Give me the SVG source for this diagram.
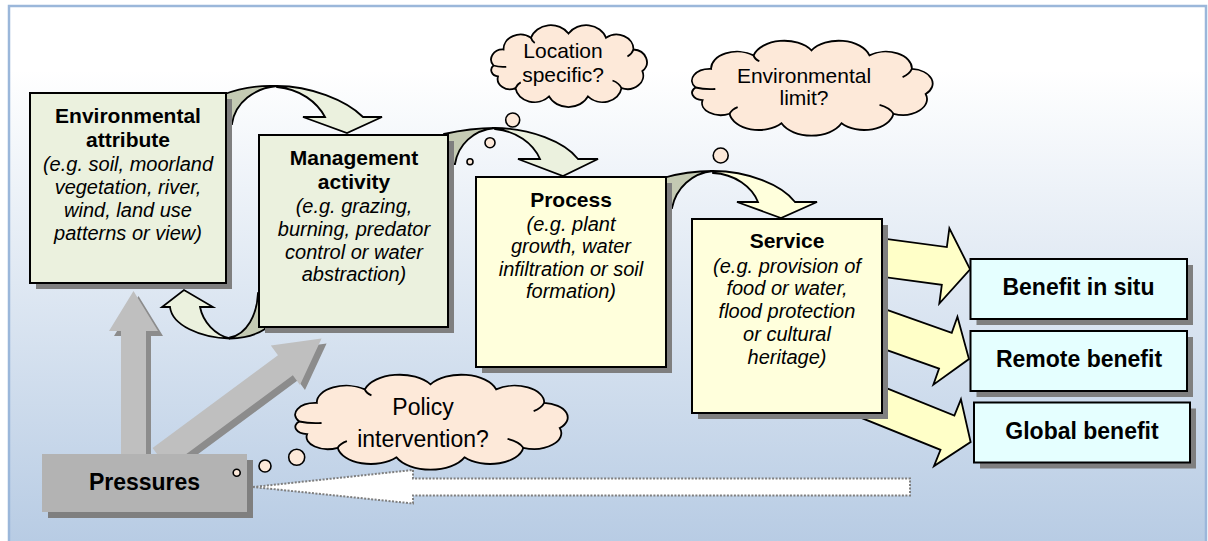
<svg xmlns="http://www.w3.org/2000/svg" width="1208" height="541" viewBox="0 0 1208 541">
<defs>
<linearGradient id="bg" gradientUnits="userSpaceOnUse" x1="0" y1="70" x2="0" y2="541">
<stop offset="0" stop-color="#ffffff"/>
<stop offset="1" stop-color="#b8cce4"/>
</linearGradient>
<style>
.box{stroke:#000;stroke-width:2}
.shadow{fill:#7f7f7f}
.green{fill:#ebf1de}
.yellow{fill:#ffffdc}
.cyan{fill:#e5ffff}
.title{font-family:"Liberation Sans",Arial,sans-serif;font-weight:bold;font-size:21px;text-anchor:middle;fill:#000}
.body{font-family:"Liberation Sans",Arial,sans-serif;font-style:italic;font-size:20px;text-anchor:middle;fill:#000}
.big{font-family:"Liberation Sans",Arial,sans-serif;font-weight:bold;font-size:23px;text-anchor:middle;fill:#000}
.ctxt{font-family:"Liberation Sans",Arial,sans-serif;font-size:21px;text-anchor:middle;fill:#000}
.cloud{fill:#fde9d9;stroke:#000;stroke-width:1.8;vector-effect:non-scaling-stroke}
.cline{fill:none;stroke:#000;stroke-width:1.8;vector-effect:non-scaling-stroke}
.bubble{fill:#fde9d9;stroke:#000;stroke-width:1.6}
.front-g{fill:#ebf1de;stroke:#000;stroke-width:1.8}
.front-y{fill:#ffffdc;stroke:#000;stroke-width:1.8}
.back{fill:#c4cab3;stroke:#000;stroke-width:1.8}
.yarrow{fill:#ffffc8;stroke:#000;stroke-width:1.8}
.garrow{fill:#bfbfbf}
.gshadow{fill:#8c8c8c}
.dashed{fill:#ffffff;stroke:#7f7f7f;stroke-width:2;stroke-dasharray:2 1.5}
</style>
</defs>

<rect x="9" y="6" width="1197" height="545" fill="url(#bg)" stroke="#9bb7da" stroke-width="2.5"/>

<g id="connectors">
  <!-- gray pressure arrows -->
  <polygon class="gshadow" points="126,465 126,336 114,336 138.5,296 163,336 151,336 151,465"/>
  <polygon class="gshadow" transform="translate(165,463) rotate(-36.5)" points="0,-12.5 156,-12.5 156,-24.5 201,0 156,24.5 156,12.5 0,12.5"/>
  <polygon class="garrow" points="121,460 121,331 109,331 133.5,291 158,331 146,331 146,460"/>
  <polygon class="garrow" transform="translate(160,458) rotate(-36.5)" points="0,-12.5 156,-12.5 156,-24.5 201,0 156,24.5 156,12.5 0,12.5"/>

  <!-- curved arrow: attribute to management -->
  <path class="back" d="M222,95 C240,88 258,85 277,86 C255,88 235,102 232,124 L222,124 Z"/>
  <path class="front-g" d="M277,86 C310,86 346,100 363,117 L382,117 L347,133 L303,117 L325,117 C317,102 300,89 277,87 Z"/>

  <!-- curved arrow: management to process -->
  <path class="back" d="M444,134 C462,130 478,128 495,128 C473,130 458,145 455,164 L444,164 Z"/>
  <path class="front-g" d="M495,128 C530,128 565,142 578,159 L598,159 L563,176 L518,159 L540,159 C533,143 516,131 495,129 Z"/>

  <!-- curved arrow: process to service -->
  <path class="back" d="M663,178 C680,173 697,171 713,171 C692,173 676,188 672,208 L663,208 Z"/>
  <path class="front-y" d="M713,171 C748,171 782,185 795,202 L817,202 L781,218 L737,202 L758,202 C752,187 735,174 713,173 Z"/>

  <!-- curved arrow: management back to attribute -->
  <path class="back" d="M230,338.5 C245,338 256,335 265,329 L265,292 L258,293 C257,315 247,334 230,337.5 Z"/>
  <path class="front-g" d="M170,307 C172,325 200,338 230,338.5 C215,335 203,322 200,307 L213,307 L184,290 L162,307 Z"/>

  <!-- service to benefits -->
  <polygon class="yarrow" transform="translate(870,256) rotate(7.6)" points="0,-19 75,-19 75,-38 101,0 75,38 75,19 0,19"/>
  <polygon class="yarrow" transform="translate(870,324) rotate(19.5)" points="0,-19 80,-19 80,-36 105,0 80,36 80,19 0,19"/>
  <polygon class="yarrow" transform="translate(864,399) rotate(22)" points="0,-18.5 90,-18.5 90,-36 115,0 90,36 90,18.5 0,18.5"/>

  <!-- dotted feedback arrow -->
  <polygon class="dashed" points="253,487 413,470 413,478.5 910,478.5 910,495.5 413,495.5 413,503.5"/>
</g>

<g id="node-environmental-attribute">
  <rect class="shadow" x="36" y="99" width="196" height="190"/>
  <rect class="box green" x="30" y="93" width="196" height="190"/>
  <text class="title" x="128" y="123">Environmental</text>
  <text class="title" x="128" y="147">attribute</text>
  <text class="body" x="128" y="171">(e.g. soil, moorland</text>
  <text class="body" x="128" y="193.5">vegetation, river,</text>
  <text class="body" x="128" y="216.5">wind, land use</text>
  <text class="body" x="128" y="239.5">patterns or view)</text>
</g>

<g id="node-management-activity">
  <rect class="shadow" x="265" y="141" width="189" height="192"/>
  <rect class="box green" x="259" y="135" width="189" height="192"/>
  <text class="title" x="354" y="164.5">Management</text>
  <text class="title" x="354" y="188.5">activity</text>
  <text class="body" x="354" y="213">(e.g. grazing,</text>
  <text class="body" x="354" y="236">burning, predator</text>
  <text class="body" x="354" y="258.7">control or water</text>
  <text class="body" x="354" y="281.3">abstraction)</text>
</g>

<g id="node-process">
  <rect class="shadow" x="482" y="183" width="190" height="190"/>
  <rect class="box yellow" x="476" y="177" width="190" height="190"/>
  <text class="title" x="571" y="206.7">Process</text>
  <text class="body" x="571" y="231">(e.g. plant</text>
  <text class="body" x="571" y="253.3">growth, water</text>
  <text class="body" x="571" y="276">infiltration or soil</text>
  <text class="body" x="571" y="298.3">formation)</text>
</g>

<g id="node-service">
  <rect class="shadow" x="698" y="225" width="190" height="194"/>
  <rect class="box yellow" x="692" y="219" width="190" height="194"/>
  <text class="title" x="787" y="248.3">Service</text>
  <text class="body" x="787" y="272.7">(e.g. provision of</text>
  <text class="body" x="787" y="295">food or water,</text>
  <text class="body" x="787" y="318.3">flood protection</text>
  <text class="body" x="787" y="341">or cultural</text>
  <text class="body" x="787" y="364">heritage)</text>
</g>

<g id="node-benefit-in-situ">
  <rect class="shadow" x="976.5" y="265" width="216.5" height="60"/>
  <rect class="box cyan" x="970.5" y="259" width="216.5" height="60"/>
  <text class="big" x="1078.5" y="295">Benefit in situ</text>
</g>

<g id="node-remote-benefit">
  <rect class="shadow" x="976.5" y="337" width="216.5" height="60"/>
  <rect class="box cyan" x="970.5" y="331" width="216.5" height="60"/>
  <text class="big" x="1079" y="366.7">Remote benefit</text>
</g>

<g id="node-global-benefit">
  <rect class="shadow" x="980" y="408.5" width="216" height="60"/>
  <rect class="box cyan" x="974" y="402.5" width="216" height="60"/>
  <text class="big" x="1082" y="439.3">Global benefit</text>
</g>

<g id="node-pressures">
  <rect class="shadow" x="48" y="460" width="205" height="58"/>
  <rect x="42" y="454" width="205" height="58" fill="#b3b3b3"/>
  <text class="big" x="144.5" y="490">Pressures</text>
</g>

<g id="node-location-specific">
  <circle class="bubble" cx="470" cy="161.7" r="3"/>
  <circle class="bubble" cx="490" cy="142.7" r="5"/>
  <circle class="bubble" cx="512.7" cy="120" r="7"/>
  <g transform="translate(568.5,65.5) scale(0.75,0.64)">
    <path class="cloud" d="M-100,0 A15.6 15.6 0 0 1 -86.6,-25 A22.5 22.5 0 0 1 -50,-43.3 A27.7 27.7 0 0 1 0,-50 A27.7 27.7 0 0 1 50,-43.3 A22.5 22.5 0 0 1 86.6,-25 A19.6 19.6 0 0 1 98.5,8.7 A21.2 21.2 0 0 1 70.7,35.4 A25.6 25.6 0 0 1 25.9,48.3 A28.5 28.5 0 0 1 -25.9,48.3 A25.6 25.6 0 0 1 -70.7,35.4 A16.3 16.3 0 0 1 -94,17.1 A10 10 0 0 1 -100,0 Z"/>
    <path class="cline" d="M-100,0 q8,3 17,2 M-70.7,35.4 q2,-6 7,-9 M86.6,-25 q-2,7 -8,11 M70.7,35.4 q-3,-8 -12,-12 M-50,-43.3 q1,5 5,8"/>
  </g>
  <text class="ctxt" x="563" y="58.3">Location</text>
  <text class="ctxt" x="563" y="81.7">specific?</text>
</g>

<g id="node-environmental-limit">
  <circle class="bubble" cx="720.7" cy="155.5" r="7.5"/>
  <g transform="translate(811.5,87.5) scale(1.159,0.742)">
    <path class="cloud" d="M-100,0 A15.6 15.6 0 0 1 -86.6,-25 A22.5 22.5 0 0 1 -50,-43.3 A27.7 27.7 0 0 1 0,-50 A27.7 27.7 0 0 1 50,-43.3 A22.5 22.5 0 0 1 86.6,-25 A19.6 19.6 0 0 1 98.5,8.7 A21.2 21.2 0 0 1 70.7,35.4 A25.6 25.6 0 0 1 25.9,48.3 A28.5 28.5 0 0 1 -25.9,48.3 A25.6 25.6 0 0 1 -70.7,35.4 A16.3 16.3 0 0 1 -94,17.1 A10 10 0 0 1 -100,0 Z"/>
    <path class="cline" d="M-100,0 q8,3 17,2 M-70.7,35.4 q2,-6 7,-9 M86.6,-25 q-2,7 -8,11 M70.7,35.4 q-3,-8 -12,-12 M-50,-43.3 q1,5 5,8"/>
  </g>
  <text class="ctxt" x="804" y="82.7">Environmental</text>
  <text class="ctxt" x="804" y="105">limit?</text>
</g>

<g id="node-policy-intervention">
  <circle class="bubble" cx="236.7" cy="472.7" r="3.5"/>
  <circle class="bubble" cx="265" cy="466" r="6"/>
  <circle class="bubble" cx="296.7" cy="457.3" r="8"/>
  <g transform="translate(430.5,421.5) scale(1.3125,0.742)">
    <path class="cloud" d="M-100,0 A15.6 15.6 0 0 1 -86.6,-25 A22.5 22.5 0 0 1 -50,-43.3 A27.7 27.7 0 0 1 0,-50 A27.7 27.7 0 0 1 50,-43.3 A22.5 22.5 0 0 1 86.6,-25 A19.6 19.6 0 0 1 98.5,8.7 A21.2 21.2 0 0 1 70.7,35.4 A25.6 25.6 0 0 1 25.9,48.3 A28.5 28.5 0 0 1 -25.9,48.3 A25.6 25.6 0 0 1 -70.7,35.4 A16.3 16.3 0 0 1 -94,17.1 A10 10 0 0 1 -100,0 Z"/>
    <path class="cline" d="M-100,0 q8,3 17,2 M-70.7,35.4 q2,-6 7,-9 M86.6,-25 q-2,7 -8,11 M70.7,35.4 q-3,-8 -12,-12 M-50,-43.3 q1,5 5,8"/>
  </g>
  <text class="ctxt" x="423" y="415" style="font-size:23px">Policy</text>
  <text class="ctxt" x="423" y="447.3" style="font-size:23px">intervention?</text>
</g>
</svg>
